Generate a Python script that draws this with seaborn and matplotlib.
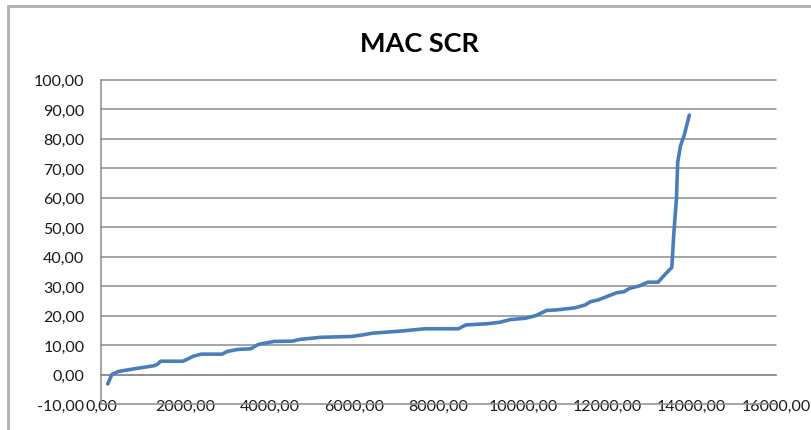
import matplotlib
matplotlib.use("Agg")
import matplotlib.pyplot as plt
import matplotlib.ticker as mticker
from matplotlib.patches import Rectangle
import seaborn as sns
import pandas as pd

# values
x_vals = [160, 258, 406, 775, 1268, 1330, 1415, 1945, 2190, 2375, 2870, 2990,
          3240, 3545, 3730, 4100, 4530, 4715, 5205, 5945, 6190, 6435, 7175,
          7670, 8470, 8650, 9145, 9450, 9700, 10070, 10315, 10560, 10800,
          11240, 11480, 11605, 11790, 12040, 12220, 12405, 12530, 12775,
          12960, 13205, 13330, 13480, 13530, 13580, 13640, 13670, 13735,
          13820, 13945]
y_vals = [-3.2, 0.0, 1.0, 1.9, 3.0, 3.4, 4.5, 4.5, 6.2, 6.9, 6.9, 7.8,
          8.5, 8.7, 10.2, 11.2, 11.3, 11.9, 12.6, 12.9, 13.4, 14.0, 14.8,
          15.5, 15.5, 16.8, 17.2, 17.7, 18.6, 19.1, 20.0, 21.7, 21.9,
          22.6, 23.6, 24.7, 25.3, 26.7, 27.7, 28.1, 29.2, 30.1,
          31.3, 31.3, 33.3, 35.6, 36.2, 48.2, 59.5, 71.9, 77.5,
          80.9, 87.9]

title = "MAC SCR"
x_ticks = list(range(0, 16001, 2000))
y_ticks = list(range(-10, 101, 10))

sns.set_style("white")
plt.rcParams['font.family'] = ['Lato', 'DejaVu Sans']

W, H = 812, 431
fig = plt.figure(figsize=(W / 100, H / 100), dpi=100)
ax = fig.add_axes([101 / W, (H - 405) / H, 675 / W, 324.5 / H])

df = pd.DataFrame({"x": x_vals, "y": y_vals})
sns.lineplot(data=df, x="x", y="y", ax=ax, color="#4A7EBB", linewidth=2.6,
             solid_capstyle="round", solid_joinstyle="round", zorder=5)

grid_col = "#8C8C8C"
ax.set_xlim(0, 16000)
ax.set_ylim(-10, 100)
ax.set_xticks(x_ticks)
ax.set_yticks(y_ticks)
ax.yaxis.grid(True, color=grid_col, linewidth=1.1)
ax.xaxis.grid(False)
for g in ax.yaxis.get_gridlines():
    g.set_clip_on(False)

fmt = mticker.FuncFormatter(lambda v, p: f"{v:.2f}".replace(".", ","))
ax.xaxis.set_major_formatter(fmt)
ax.yaxis.set_major_formatter(fmt)

for s in ["top", "right"]:
    ax.spines[s].set_visible(False)
ax.spines["bottom"].set_position(("data", 0))
ax.spines["bottom"].set_color(grid_col)
ax.spines["left"].set_color(grid_col)
ax.spines["bottom"].set_linewidth(1.1)
ax.spines["left"].set_linewidth(1.1)

ax.tick_params(axis="x", direction="out", length=5, width=1.1, color=grid_col,
               pad=12.5, labelsize=11.5, labelcolor="#1a1a1a")
ax.tick_params(axis="y", direction="out", length=5, width=1.1, color=grid_col,
               pad=7, labelsize=11.5, labelcolor="#1a1a1a")
ax.set_xlabel("")
ax.set_ylabel("")

fig.text(420 / W, 1 - 44 / H, title, ha="center", va="center",
         fontsize=19.5, fontweight="bold", color="black")

# outer chart frame (cut off at right and bottom)
fig.patches.append(Rectangle((8.5 / W, -0.1), 1.2, 1 - 6.5 / H + 0.1,
                             transform=fig.transFigure, fill=False,
                             edgecolor="#B0B0B0", linewidth=2))

fig.savefig("out.png", dpi=100)
